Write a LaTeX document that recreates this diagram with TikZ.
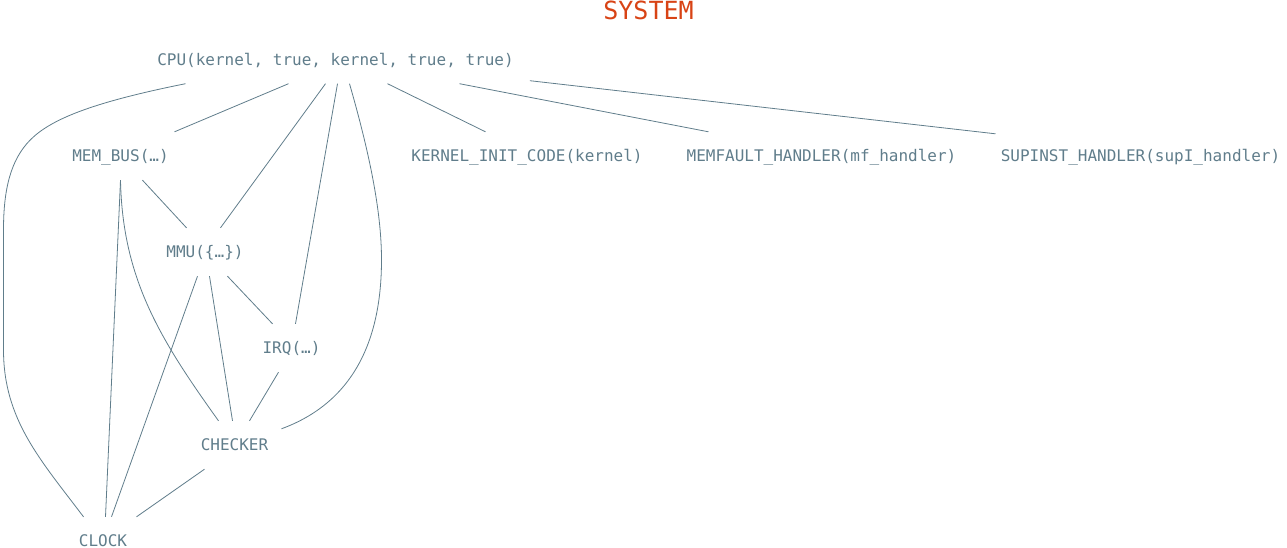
\documentclass[tikz,border=0pt]{standalone}
\usepackage{fontspec}
\setmonofont{DejaVu Sans Mono}
\definecolor{nodecol}{HTML}{607D8B}
\definecolor{titlecol}{HTML}{D84315}
\begin{document}
\begin{tikzpicture}[x=1pt,y=-1pt,
  comp/.style={rectangle, inner xsep=16pt, inner ysep=0pt, minimum height=48pt,
    text height=11.7pt, text depth=0pt, font=\ttfamily\fontsize{16pt}{18pt}\selectfont, text=nodecol},
  link/.style={draw=nodecol, line width=0.8pt}]
\useasboundingbox (0,0) rectangle (1287,547);
\node[font=\ttfamily\fontsize{25pt}{28pt}\selectfont, text=titlecol, inner sep=0pt,
  text height=18.2pt, text depth=0pt] (title) at (648.5,10) {SYSTEM};
\node[comp] (cpu) at (335.5,59.5) {CPU(kernel, true, kernel, true, true)};
\node[comp] (membus) at (120.5,156) {MEM\_BUS(…)};
\node[comp] (kinit) at (527,156) {KERNEL\_INIT\_CODE(kernel)};
\node[comp] (memfault) at (821.5,156) {MEMFAULT\_HANDLER(mf\_handler)};
\node[comp] (supinst) at (1140.5,156) {SUPINST\_HANDLER(supI\_handler)};
\node[comp] (mmu) at (205,252) {MMU(\{…\})};
\node[comp] (irq) at (291.5,348) {IRQ(…)};
\node[comp] (checker) at (234.5,445) {CHECKER};
\node[comp] (clock) at (103,541) {CLOCK};
% CPU edges
\draw[link] ([xshift=-47pt]cpu.south) -- ([xshift=54pt]membus.north);
\draw[link] ([xshift=52pt]cpu.south) -- ([xshift=-41.5pt]kinit.north);
\draw[link] ([xshift=124pt]cpu.south) -- ([xshift=-113pt]memfault.north);
\draw[link] ([yshift=3pt]cpu.south east) -- ([xshift=-145pt,yshift=-2pt]supinst.north);
\draw[link] ([xshift=-10pt]cpu.south) -- ([xshift=15.5pt]mmu.north);
\draw[link] ([xshift=2pt]cpu.south) -- ([xshift=4pt]irq.north);
\draw[link] ([xshift=14pt]cpu.south) .. controls +(19,66) and +(0,-50) .. ++(32,176)
  .. controls +(0,70) and +(79,-29) .. ([xshift=-3pt,yshift=-8pt]checker.north east);
\draw[link] ([xshift=-150pt]cpu.south) .. controls +(-95,19) and +(20,-20) .. ++(-155,56)
  .. controls +(-20,20) and +(0,-40) .. ++(-27,90) -- ++(0,120)
  .. controls +(0,70) and +(-43,-57) .. ([xshift=-19.5pt]clock.north);
% MEM_BUS edges
\draw[link] ([xshift=22pt]membus.south) -- ([xshift=-18.5pt]mmu.north);
\draw[link] (membus.south) .. controls +(2,99) and +(-58,-81) .. ([xshift=-16pt]checker.north);
\draw[link] (membus.south) -- ([xshift=2.5pt]clock.north);
% MMU edges
\draw[link] ([xshift=-7.5pt]mmu.south) -- ([xshift=8.5pt]clock.north);
\draw[link] ([xshift=4.5pt]mmu.south) -- ([xshift=-2pt]checker.north);
\draw[link] ([xshift=22.5pt]mmu.south) -- ([xshift=-19pt]irq.north);
% IRQ / CHECKER edges
\draw[link] ([xshift=-13pt]irq.south) -- ([xshift=15pt]checker.north);
\draw[link] ([xshift=-30pt]checker.south) -- ([xshift=33.5pt]clock.north);
\end{tikzpicture}
\end{document}
